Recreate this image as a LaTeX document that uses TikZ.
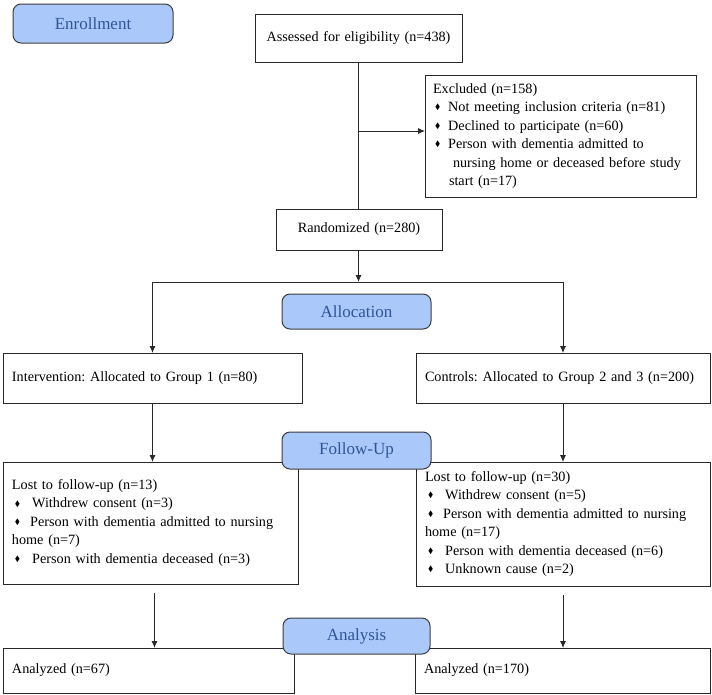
\documentclass[tikz,border=0pt]{standalone}
\usepackage{amssymb}
\usepackage{fontspec}
\setmainfont{Liberation Serif}
\usepackage{tikz}
\usetikzlibrary{arrows.meta,positioning}
\definecolor{stageblue}{RGB}{170,200,250}
\definecolor{stagetext}{RGB}{47,85,151}
\definecolor{stageline}{RGB}{60,60,60}
\definecolor{boxline}{RGB}{40,40,40}
\tikzstyle{box}  =[draw=boxline, line width=0.9pt, anchor=north west,
                   inner xsep=9pt, inner ysep=0pt, outer sep=0pt,
                   align=left, font=\fontsize{14.2}{18.5}\selectfont\frenchspacing]
\tikzstyle{stage}=[draw=stageline, fill=stageblue, rounded corners=8pt,
                   line width=1pt, anchor=north west, inner sep=0pt,
                   outer sep=0pt, text=stagetext,
                   font=\fontsize{17}{20}\selectfont]
\tikzstyle{edge} =[draw=boxline, line width=0.9pt,
                   >={Latex[length=7pt,width=6pt]}]
\newcommand{\dia}{\raisebox{0.3ex}{\scalebox{0.55}{$\blacklozenge$}}}

\begin{document}
\begin{tikzpicture}[x=1pt,y=-1pt]
    \useasboundingbox (0,0) rectangle (712,694);

    % boxes
    \draw (255,14) node (assess) [box,align=center,text width=189pt,minimum height=48pt] {Assessed for eligibility (n=438)};
    \draw (425,75) node (excl) [box,inner xsep=8pt,text width=255pt,minimum height=122pt]
        {Excluded (n=158)\\
         \hspace*{2pt}\dia\hspace{8pt}Not meeting inclusion criteria (n=81)\\
         \hspace*{2pt}\dia\hspace{8pt}Declined to participate (n=60)\\
         \hspace*{2pt}\dia\hspace{8pt}Person with dementia admitted to\\
         \hspace*{20pt}nursing home or deceased before study\\
         \hspace*{16pt}start (n=17)};
    \draw (276,209) node (rand) [box,align=center,text width=148pt,minimum height=41pt] {Randomized (n=280)};
    \draw (3,353) node (interv) [box,text width=281pt,minimum height=50pt] {Intervention: Allocated to Group 1 (n=80)};
    \draw (416,353) node (ctrl) [box,text width=276pt,minimum height=50pt] {Controls: Allocated to Group 2 and 3 (n=200)};
    \draw (3,462) node (lost1) [box,text width=277pt,minimum height=122pt]
        {Lost to follow-up (n=13)\\
         \hspace*{3pt}\dia\hspace{12pt}Withdrew consent (n=3)\\
         \hspace*{3pt}\dia\hspace{10pt}Person with dementia admitted to nursing\\
         home (n=7)\\
         \hspace*{3pt}\dia\hspace{12pt}Person with dementia deceased (n=3)};
    \draw (416,462) node (lost2) [box,text width=276pt,minimum height=124pt]
        {Lost to follow-up (n=30)\\
         \hspace*{3pt}\dia\hspace{12pt}Withdrew consent (n=5)\\
         \hspace*{3pt}\dia\hspace{10pt}Person with dementia admitted to nursing\\
         home (n=17)\\
         \hspace*{3pt}\dia\hspace{12pt}Person with dementia deceased (n=6)\\
         \hspace*{3pt}\dia\hspace{12pt}Unknown cause (n=2)};
    \draw (3,648) node (anl1) [box,text width=273pt,minimum height=45pt] {Analyzed (n=67)};
    \draw (415,648) node (anl2) [box,text width=277pt,minimum height=45pt] {Analyzed (n=170)};

    % connectors
    \coordinate (split) at (assess.south |- 0,131);
    \coordinate (fork) at (assess.south |- 0,282);
    \coordinate (forkL) at (interv.north |- fork);
    \coordinate (forkR) at (ctrl.north |- fork);
    \draw [edge] (assess.south) -- (assess.south |- rand.north);
    \draw [edge,->] (split) -- (split -| excl.west);
    \draw [edge,->] (assess.south |- rand.south) -- (fork);
    \draw [edge] (forkL) -- (forkR);
    \foreach \i/\j in {forkL/interv,forkR/ctrl}
        \draw [edge,->] (\i) -- (\j.north);
    \foreach \i/\j in {interv/lost1,ctrl/lost2}
        \draw [edge,->] (\i.south) -- (\i.south |- \j.north);
    \draw [edge,->] ([xshift=4pt,yshift=-9pt]lost1.south) -- ([xshift=4pt]lost1.south |- anl1.north);
    \draw [edge,->] ([yshift=-9pt]lost2.south) -- (lost2.south |- anl2.north);

    % stages
    \draw (13,4) node (enroll) [stage,minimum width=160pt,minimum height=39pt] {Enrollment};
    \draw (282,294) node (alloc) [stage,minimum width=149pt,minimum height=35pt] {Allocation};
    \draw (282,432) node (follow) [stage,minimum width=149pt,minimum height=37pt] {Follow-Up};
    \draw (283,618) node (analysis) [stage,minimum width=147pt,minimum height=36pt] {Analysis};
\end{tikzpicture}
\end{document}
